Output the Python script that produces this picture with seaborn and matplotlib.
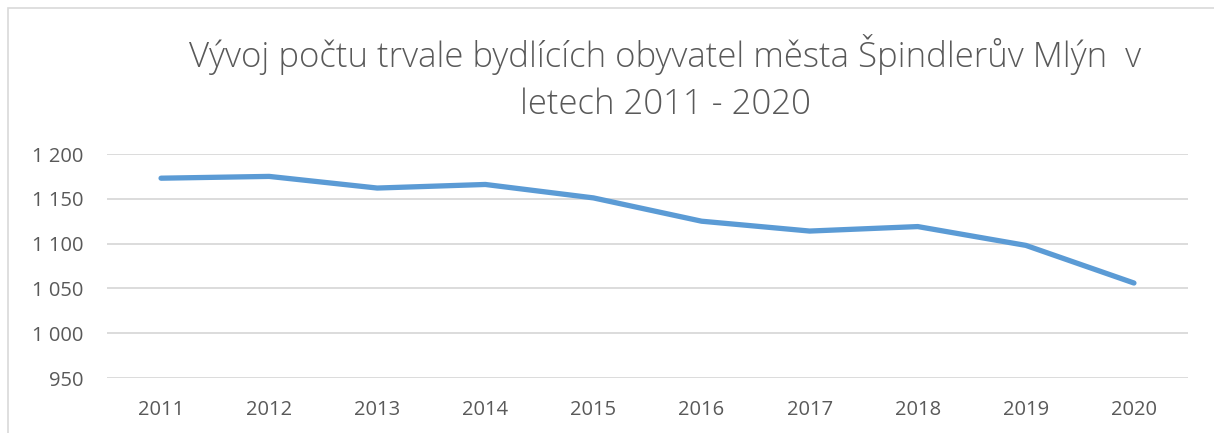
import numpy as np
import pandas as pd
import matplotlib
matplotlib.use('Agg')
import matplotlib.pyplot as plt
import seaborn as sns
from matplotlib.ticker import FuncFormatter, FixedLocator
from matplotlib.patches import Rectangle

# data
years = [2011, 2012, 2013, 2014, 2015, 2016, 2017, 2018, 2019, 2020]
obyvatele = [1173, 1175, 1162, 1166, 1151, 1125, 1114, 1119, 1098, 1056]
y_ticks = [950, 1000, 1050, 1100, 1150, 1200]

title = 'Vývoj počtu trvale bydlících obyvatel města Špindlerův Mlýn  v\nletech 2011 - 2020'

sns.set_theme(style='white')
plt.rcParams['font.family'] = ['Open Sans', 'DejaVu Sans']

df = pd.DataFrame({'rok': years, 'pocet': obyvatele})

fig = plt.figure(figsize=(12.14, 4.33), dpi=100)
ax = fig.add_axes([107/1214, 1-378/433, (1188-107)/1214, (378-154)/433])

# chart frame (light border like the office chart)
fig.patches.append(Rectangle((8/1214, -0.1), 1.2, 1-8/433+0.1, transform=fig.transFigure,
                             fill=False, edgecolor='#d9d9d9', linewidth=1.2, zorder=0))

sns.lineplot(data=df, x='rok', y='pocet', ax=ax, color='#5b9bd5', linewidth=3.8,
             solid_capstyle='round', solid_joinstyle='round', zorder=3)

ax.set_xlim(2010.5, 2020.5)
ax.set_ylim(950, 1200)
ax.yaxis.set_major_locator(FixedLocator(y_ticks))
ax.yaxis.set_major_formatter(FuncFormatter(lambda v, p: f'{int(v):,}'.replace(',', ' ')))
ax.set_xticks(years)
ax.set_xticklabels([str(y) for y in years])
ax.grid(axis='y', color='#d9d9d9', linewidth=1.3, zorder=0)
ax.grid(axis='x', visible=False)
for s in ax.spines.values():
    s.set_visible(False)
ax.tick_params(axis='both', length=0, labelsize=14.5, labelcolor='#595959')
ax.tick_params(axis='y', pad=17)
ax.tick_params(axis='x', pad=16)
ax.set_xlabel('')
ax.set_ylabel('')

fig.text(665/1214, 1-78/433, title, ha='center', va='center', fontsize=25,
         color='#595959', fontweight='light', linespacing=1.45)

fig.savefig('out.png', dpi=100)
